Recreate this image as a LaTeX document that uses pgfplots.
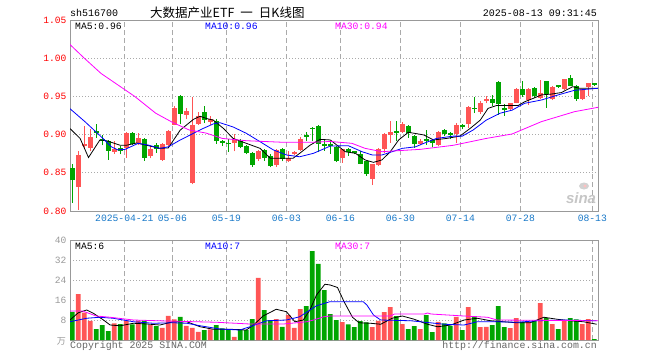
\documentclass[border=0pt]{standalone}
\usepackage{fontspec}
\setmainfont{Liberation Mono}
\newfontfamily\cjk{Noto Sans CJK SC}
\newfontfamily\sinafont{Liberation Sans}
\usepackage{pgfplots}
\usepackage{pgfplotstable}
\pgfplotsset{compat=1.18}
\definecolor{kred}{HTML}{FF5555}
\definecolor{kgreen}{HTML}{00A500}
\definecolor{tickred}{HTML}{FF0000}
\definecolor{dateblue}{HTML}{1878C8}
\definecolor{bordergray}{HTML}{999999}
\definecolor{gridgray}{HTML}{AAAAAA}
\definecolor{volgray}{HTML}{999999}
\definecolor{copygray}{HTML}{666666}
\definecolor{maten}{HTML}{0000FF}
\definecolor{mathirty}{HTML}{FF00FF}

\pgfplotstableread{
i o h l c v
1 0.831 0.878 0.801 0.873 18.4
2 0.886 0.911 0.881 0.888 11.0
3 0.882 0.907 0.878 0.897 7.7
7 0.877 0.892 0.875 0.881 6.7
9 0.882 0.903 0.870 0.902 7.7
11 0.889 0.902 0.886 0.895 7.7
13 0.872 0.885 0.869 0.881 6.0
15 0.867 0.889 0.866 0.888 4.9
16 0.886 0.906 0.885 0.905 9.7
17 0.913 0.937 0.912 0.935 8.3
19 0.926 0.935 0.920 0.931 5.7
20 0.837 0.949 0.835 0.912 4.9
21 0.914 0.930 0.913 0.924 3.3
23 0.917 0.925 0.912 0.920 4.3
27 0.889 0.901 0.878 0.893 1.3
31 0.868 0.880 0.866 0.878 24.9
34 0.860 0.881 0.858 0.880 8.4
36 0.865 0.878 0.864 0.870 10.0
37 0.874 0.878 0.873 0.877 4.9
38 0.880 0.897 0.879 0.894 12.4
45 0.869 0.881 0.863 0.881 7.2
50 0.842 0.862 0.834 0.861 5.2
51 0.860 0.883 0.859 0.8815 7.7
52 0.8815 0.902 0.876 0.9005 11.2
53 0.900 0.918 0.8895 0.904 13.2
55 0.904 0.916 0.9026 0.9137 6.4
58 0.888 0.894 0.886 0.892 4.4
61 0.887 0.905 0.885 0.904 7.3
64 0.9004 0.915 0.889 0.912 9.3
66 0.9137 0.937 0.909 0.9366 13.2
68 0.929 0.944 0.927 0.941 5.2
69 0.945 0.950 0.941 0.946 5.3
73 0.9334 0.942 0.932 0.942 4.8
74 0.942 0.961 0.941 0.9595 8.8
76 0.945 0.961 0.939 0.960 7.2
78 0.9475 0.971 0.946 0.955 14.8
80 0.9465 0.963 0.945 0.9618 6.4
82 0.9596 0.973 0.959 0.9727 8.0
85 0.9465 0.960 0.945 0.9596 6.4
86 0.962 0.968 0.951 0.967 8.4
}\upcandles

\pgfplotstableread{
i o h l c v
0 0.856 0.861 0.811 0.840 11.3
4 0.905 0.914 0.896 0.903 4.4
5 0.894 0.899 0.886 0.892 6.0
6 0.891 0.893 0.867 0.878 3.6
8 0.882 0.885 0.874 0.879 6.4
10 0.902 0.903 0.887 0.888 6.3
12 0.894 0.896 0.866 0.869 7.7
14 0.886 0.889 0.876 0.881 5.6
18 0.951 0.952 0.914 0.927 9.3
22 0.929 0.938 0.915 0.919 4.0
24 0.918 0.920 0.888 0.891 6.0
25 0.891 0.893 0.885 0.889 4.7
26 0.889 0.894 0.877 0.888 4.0
28 0.891 0.894 0.882 0.884 4.4
29 0.885 0.887 0.874 0.876 4.0
30 0.876 0.877 0.858 0.860 8.4
32 0.880 0.881 0.866 0.869 12.0
33 0.872 0.874 0.857 0.859 8.0
35 0.881 0.883 0.865 0.868 5.3
39 0.899 0.904 0.891 0.897 13.6
40 0.909 0.910 0.891 0.907 35.6
41 0.911 0.912 0.877 0.888 30.5
42 0.887 0.893 0.879 0.886 20.0
43 0.888 0.892 0.875 0.886 10.4
44 0.884 0.885 0.864 0.866 8.0
46 0.8815 0.882 0.872 0.8775 6.3
47 0.878 0.879 0.874 0.877 5.2
48 0.875 0.878 0.861 0.861 7.6
49 0.865 0.866 0.846 0.848 7.1
54 0.905 0.918 0.891 0.903 9.6
56 0.9115 0.913 0.896 0.9026 4.4
57 0.898 0.899 0.883 0.888 5.6
59 0.894 0.906 0.887 0.893 10.0
60 0.8925 0.893 0.884 0.8894 3.2
62 0.9057 0.907 0.898 0.9004 6.7
63 0.9026 0.904 0.894 0.8996 5.7
65 0.912 0.9137 0.907 0.911 4.0
67 0.935 0.949 0.928 0.934 9.6
70 0.9465 0.952 0.938 0.9413 6.0
71 0.969 0.970 0.926 0.940 13.6
72 0.934 0.940 0.925 0.933 5.2
75 0.960 0.970 0.949 0.952 7.2
77 0.961 0.962 0.948 0.950 7.6
79 0.9697 0.970 0.935 0.953 8.8
81 0.9648 0.965 0.961 0.9618 4.4
83 0.974 0.978 0.963 0.964 8.8
84 0.964 0.965 0.944 0.9465 8.3
87 0.967 0.968 0.964 0.965 0.4
}\downcandles

\pgfplotsset{
  kbase/.style={
    scale only axis, width=528pt,
    xmin=-0.383, xmax=87.62,
    axis line style={bordergray, line width=1pt},
    xtick={8.67,16.67,25.67,35.67,44.67,54.67,64.67,74.67,86.67},
    xmajorgrids, ymajorgrids,
    x grid style={gridgray, dash pattern=on 5pt off 3pt, line width=0.8pt},
    y grid style={gridgray, dash pattern=on 1pt off 2pt, line width=0.8pt},
    major tick length=0pt,
    clip=true,
  },
  body/.style={draw=none, mark=none, forget plot,
    error bars/.cd, y dir=both, y explicit, error mark=none,
    error bar style={draw=#1, line width=4.7pt, solid}},
  wick/.style={draw=none, mark=none, forget plot,
    error bars/.cd, y dir=plus, y explicit, error mark=none,
    error bar style={draw=#1, line width=1pt, solid}},
}

\begin{document}
\begin{tikzpicture}[x=1pt,y=1pt]
\useasboundingbox (0,0) rectangle (660,360);

% ---------- price panel ----------
\begin{axis}[kbase,
  at={(70pt,149pt)}, anchor=south west, height=191pt,
  ymin=0.80, ymax=1.05,
  ytick={0.80,0.85,0.90,0.95,1.00,1.05},
  yticklabels={0.80,0.85,0.90,0.95,1.00,1.05},
  yticklabel style={font=\fontsize{9.6}{10}\selectfont, text=tickred},
  xticklabels={2025-04-21,05-06,05-19,06-03,06-16,06-30,07-14,07-28,08-13},
  xticklabel style={font=\fontsize{9.7}{10}\selectfont, text=dateblue},
]
\addplot[wick=kred] table[x=i, y=l, y error expr=\thisrow{h}-\thisrow{l}] {\upcandles};
\addplot[wick=kgreen] table[x=i, y=l, y error expr=\thisrow{h}-\thisrow{l}] {\downcandles};
\addplot[body=kred] table[x=i, y expr=(\thisrow{o}+\thisrow{c})/2, y error expr={max(abs(\thisrow{c}-\thisrow{o})/2,0.0007)}] {\upcandles};
\addplot[body=kgreen] table[x=i, y expr=(\thisrow{o}+\thisrow{c})/2, y error expr={max(abs(\thisrow{c}-\thisrow{o})/2,0.0007)}] {\downcandles};
% MA5
\addplot[black, line width=0.8pt, mark=none] coordinates {
(-0.4,0.908) (1.3,0.895) (2.7,0.870) (4.6,0.893) (5.7,0.892) (8,0.886) (9,0.886) (10.7,0.889) (12.4,0.886) (14.6,0.882) (16,0.8826) (18,0.906) (20.2,0.920) (21.3,0.924) (22.4,0.921) (23.5,0.919) (25.2,0.908) (26.8,0.895) (29,0.8886) (31.3,0.882) (33,0.869) (35.7,0.869) (36.8,0.869) (37.9,0.8755) (39.6,0.886) (41.3,0.8938) (43,0.893) (45.5,0.8776) (47.2,0.8755) (48.8,0.8668) (50.2,0.8637) (51.6,0.8668) (53,0.8776) (54.4,0.893) (56,0.903) (57.7,0.9008) (58.6,0.8995) (60.2,0.893) (62.4,0.895) (64.6,0.898) (66.3,0.908) (68,0.919) (69.3,0.9344) (70.7,0.938) (73.3,0.938) (74.3,0.938) (75.4,0.943) (77,0.948) (78.2,0.952) (79.8,0.953) (81.5,0.955) (83.4,0.9627) (84.6,0.9606) (86,0.9606) (87.6,0.9606)};
% MA10
\addplot[maten, line width=0.8pt, mark=none] coordinates {
(-0.4,0.934) (2.1,0.917) (4.8,0.8973) (6.5,0.884) (7.6,0.880) (8.8,0.8807) (11,0.8886) (12.6,0.8864) (14.6,0.882) (16,0.884) (18,0.893) (20.2,0.9017) (21.8,0.908) (23.5,0.914) (24.6,0.9156) (26.8,0.910) (29,0.9017) (31.3,0.8907) (33.5,0.880) (35.7,0.8733) (37.9,0.871) (40.2,0.8755) (43,0.885) (46,0.8855) (48.3,0.8776) (50,0.8733) (51.6,0.8733) (53.3,0.8776) (55,0.882) (57.2,0.884) (58.6,0.8886) (60.7,0.895) (63.5,0.898) (65,0.898) (66.8,0.906) (69,0.919) (71.3,0.928) (73.3,0.932) (75.4,0.941) (78.2,0.9453) (81,0.952) (83.7,0.958) (87.6,0.9606)};
% MA30
\addplot[mathirty, line width=0.8pt, mark=none] coordinates {
(-0.4,1.018) (2,1.000) (4.8,0.980) (7.6,0.965) (10.4,0.950) (13.9,0.928) (16.7,0.916) (19.5,0.906) (22.3,0.902) (25,0.895) (29,0.892) (35,0.890) (40,0.890) (43,0.891) (46.6,0.8886) (48.8,0.882) (51.6,0.8776) (54.4,0.879) (58,0.8807) (63.5,0.886) (69,0.895) (73.3,0.9008) (78.2,0.917) (83.7,0.930) (87.6,0.9357)};
\end{axis}

% ---------- volume panel ----------
\begin{axis}[kbase,
  at={(70pt,20pt)}, anchor=south west, height=100pt,
  ymin=0, ymax=40,
  ytick={0,8,16,24,32,40},
  yticklabels={,8,16,24,32,40},
  yticklabel style={font=\fontsize{9.6}{10}\selectfont, text=volgray},
  xticklabels={},
]
\addplot[ybar, bar width=4.8pt, bar shift=0pt, fill=kred, draw=none, forget plot] table[x=i, y=v] {\upcandles};
\addplot[ybar, bar width=4.8pt, bar shift=0pt, fill=kgreen, draw=none, forget plot] table[x=i, y=v] {\downcandles};
\addplot[black, line width=0.8pt, mark=none] coordinates {
(-0.4,8.0) (1,10.9) (2.4,12.0) (3.5,10.7) (5.2,8.0) (6.3,6.0) (8,5.7) (10.2,6.7) (12.4,6.4) (14.6,6.0) (16.8,7.3) (19.1,7.3) (21.3,5.3) (23.5,4.3) (26.3,4.3) (29,4.0) (30.2,6.0) (31.8,9.6) (34,12.3) (35.7,11.3) (37.1,7.3) (38.5,8.0) (39.6,12.0) (40.7,18.0) (42.1,22.3) (43,22) (44.2,21) (45.3,15.3) (46.7,9.1) (47.8,6.9) (49.7,6.7) (51.4,6.3) (53.3,8.7) (55,9.6) (57,8.3) (59.2,6.3) (60.9,5.3) (63.1,6.0) (65.3,8.0) (67.5,8.7) (69.7,7.7) (71.9,7.3) (74.1,6.9) (76.3,6.9) (78.6,9.1) (80.8,8.3) (83,7.7) (85.2,7.3) (87.4,6.3)};
\addplot[maten, line width=0.8pt, mark=none] coordinates {
(-0.4,7.3) (2.4,8.7) (4.6,9.1) (6.8,8.7) (10.2,7.3) (13.5,6.7) (16.8,6.9) (19.1,6.7) (21.3,5.7) (24.6,4.4) (27.9,4.0) (29.6,5.3) (32.4,7.7) (35.7,8.0) (37.9,9.3) (40.7,13.7) (42.9,15.3) (48.5,15.3) (49.1,14) (50.2,10) (51.4,8.0) (56.4,7.7) (62,6.3) (65.3,6.0) (67.5,7.3) (70.8,7.3) (74.1,7.1) (77.5,7.7) (81.9,8.0) (87.4,7.7)};
\addplot[mathirty, line width=0.8pt, mark=none] coordinates {
(-0.4,11.6) (1.7,11.6) (4,9.6) (6.3,9.1) (10.2,8.0) (15.7,7.6) (24,7.1) (29.6,6.4) (35.2,6.4) (39.1,7.3) (40.2,8.0) (41.9,9.3) (43,9.6) (53,9.6) (53.7,10.4) (58.7,10.4) (59.2,10.8) (59.8,10.4) (65.3,9.6) (69.2,9.1) (70.8,8.0) (87.6,7.7)};
\end{axis}

% ---------- texts ----------
\node[anchor=base west, inner sep=0, font=\fontsize{10}{12}\selectfont] at (70,343.5) {sh516700};
\node[anchor=base west, inner sep=0, font=\cjk\fontsize{12.5}{14}\selectfont] at (150,343) {大数据产业ETF\hspace{6pt}一\hspace{6pt}日K线图};
\node[anchor=base east, inner sep=0, font=\fontsize{10}{12}\selectfont] at (597,344) {2025-08-13 09:31:45};

\node[anchor=base west, inner sep=0, font=\fontsize{9.7}{12}\selectfont] at (75,331) {MA5:0.96};
\node[anchor=base west, inner sep=0, font=\fontsize{9.7}{12}\selectfont, text=maten] at (205,331) {MA10:0.96};
\node[anchor=base west, inner sep=0, font=\fontsize{9.7}{12}\selectfont, text=mathirty] at (335,331) {MA30:0.94};

\node[anchor=base west, inner sep=0, font=\fontsize{9.7}{12}\selectfont] at (75,111) {MA5:6};
\node[anchor=base west, inner sep=0, font=\fontsize{9.7}{12}\selectfont, text=maten] at (205,111) {MA10:7};
\node[anchor=base west, inner sep=0, font=\fontsize{9.7}{12}\selectfont, text=mathirty] at (335,111) {MA30:7};

\node[anchor=base east, inner sep=0, font=\cjk\fontsize{9}{10}\selectfont, text=volgray] at (66,16) {万};

\node[anchor=base west, inner sep=0, font=\fontsize{9.9}{12}\selectfont, text=copygray] at (70,11.5) {Copyright 2025 SINA.COM};
\node[anchor=base east, inner sep=0, font=\fontsize{9.9}{12}\selectfont, text=copygray] at (597,11.5) {http://finance.sina.com.cn};

\node[anchor=center, inner sep=0, font=\sinafont\bfseries\itshape\fontsize{15}{16}\selectfont, text=gray!45] at (581,162) {sina};
\fill[gray!35] (584,174) ellipse (5 and 3.5);
\fill[red!25] (585,174) circle (1.6);
\end{tikzpicture}
\end{document}
